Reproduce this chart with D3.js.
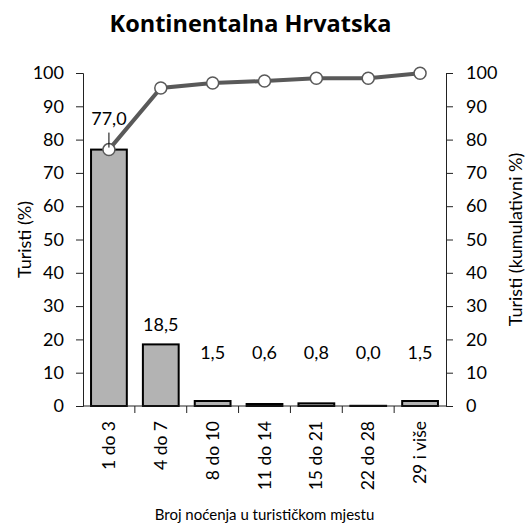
<!DOCTYPE html>
<html>
<head>
<meta charset="utf-8">
<script src="https://cdn.jsdelivr.net/npm/d3@7"></script>
<style>
  body { margin: 0; background: #fff; }
  text { font-family: Lato, "Noto Sans", sans-serif; fill: #000; }
</style>
</head>
<body>
<div id="chart"></div>
<script>
const categories = ["1 do 3", "4 do 7", "8 do 10", "11 do 14", "15 do 21", "22 do 28", "29 i više"];
const shares = [77.0, 18.5, 1.5, 0.6, 0.8, 0.0, 1.5];
const cumulative = [77.0, 95.5, 97.0, 97.6, 98.4, 98.4, 99.9];
const yTicks = [0, 10, 20, 30, 40, 50, 60, 70, 80, 90, 100];

const W = 531, H = 525;
const margin = { top: 73, right: 85, bottom: 119, left: 83 },
      width = W - margin.left - margin.right,
      height = H - margin.top - margin.bottom;

const root = d3.select("#chart").append("svg")
  .attr("width", W)
  .attr("height", H);

const svg = root.append("g")
  .attr("transform", `translate(${margin.left},${margin.top})`);

const x = d3.scaleBand()
  .domain(categories)
  .range([0, width])
  .paddingInner(0.31)
  .paddingOuter(0.155);

const xb = d3.scaleBand()
  .domain(categories)
  .range([0, width]);

const y = d3.scaleLinear().domain([0, 100]).range([height, 0]);

const fmt = v => v.toFixed(1).replace(".", ",");

// bars (keep a hairline height so zero bars still show their outline)
svg.selectAll("rect.bar")
  .data(shares)
  .join("rect")
  .attr("class", "bar")
  .attr("x", (d, i) => x(categories[i]))
  .attr("y", d => Math.min(y(d), height - 0.2))
  .attr("width", x.bandwidth())
  .attr("height", d => Math.max(height - y(d), 0.2))
  .attr("fill", "#b3b3b3")
  .attr("stroke", "#000")
  .attr("stroke-width", 2);

// axes
const leftAxis = svg.append("g")
  .call(d3.axisLeft(y).tickValues(yTicks).tickSize(7).tickPadding(12));
const rightAxis = svg.append("g")
  .attr("transform", `translate(${width},0)`)
  .call(d3.axisRight(y).tickValues(yTicks).tickSize(7).tickPadding(13));
[leftAxis, rightAxis].forEach(g => {
  g.select(".domain").attr("stroke", "#222");
  g.selectAll(".tick line").attr("stroke", "#222");
  g.selectAll("text").style("font-size", "18px").attr("font-family", null);
});

const xAxis = svg.append("g")
  .attr("transform", `translate(0,${height})`);
xAxis.append("line")
  .attr("x1", 0).attr("x2", width)
  .attr("stroke", "#222");
xAxis.selectAll("line.tk")
  .data(categories.slice(1))
  .join("line")
  .attr("class", "tk")
  .attr("x1", d => xb(d)).attr("x2", d => xb(d))
  .attr("y1", 0).attr("y2", 7)
  .attr("stroke", "#222");
xAxis.selectAll("text")
  .data(categories)
  .join("text")
  .attr("transform", d => `translate(${xb(d) + xb.bandwidth() / 2},15) rotate(-90)`)
  .attr("text-anchor", "end")
  .attr("dy", "0.35em")
  .style("font-size", "17.5px")
  .text(d => d);

// cumulative line
const cx = (d, i) => xb(categories[i]) + xb.bandwidth() / 2;
svg.append("path")
  .datum(cumulative)
  .attr("fill", "none")
  .attr("stroke", "#595959")
  .attr("stroke-width", 4)
  .attr("d", d3.line().x(cx).y(d => y(d)));

svg.selectAll("circle.pt")
  .data(cumulative)
  .join("circle")
  .attr("class", "pt")
  .attr("cx", cx)
  .attr("cy", d => y(d))
  .attr("r", 6)
  .attr("fill", "#fff")
  .attr("stroke", "#595959")
  .attr("stroke-width", 1.5);

// value labels
svg.selectAll("text.val")
  .data(shares)
  .join("text")
  .attr("class", "val")
  .attr("x", cx)
  .attr("y", (d, i) => i === 0 ? y(d) - 31 : y(Math.max(d, 10)) - 20)
  .attr("text-anchor", "middle")
  .attr("dy", "0.35em")
  .style("font-size", "18px")
  .text(d => fmt(d));

// leader line for first label
svg.append("line")
  .attr("x1", cx(shares[0], 0)).attr("x2", cx(shares[0], 0))
  .attr("y1", y(shares[0]) - 17).attr("y2", y(shares[0]) - 2)
  .attr("stroke", "#000");

// titles
root.append("text")
  .attr("x", margin.left + width / 2 - 14)
  .attr("y", 32)
  .attr("text-anchor", "middle")
  .style("font-family", "'Open Sans', sans-serif")
  .style("font-size", "23.5px")
  .style("font-weight", "700")
  .text("Kontinentalna Hrvatska");

root.append("text")
  .attr("x", margin.left + width / 2)
  .attr("y", 520)
  .attr("text-anchor", "middle")
  .style("font-size", "15px")
  .text("Broj noćenja u turističkom mjestu");

root.append("text")
  .attr("transform", `translate(31,${margin.top + height / 2}) rotate(-90)`)
  .attr("text-anchor", "middle")
  .style("font-size", "18px")
  .text("Turisti (%)");

root.append("text")
  .attr("transform", `translate(522,${margin.top + height / 2}) rotate(-90)`)
  .attr("text-anchor", "middle")
  .style("font-size", "18px")
  .text("Turisti (kumulativni %)");
</script>
</body>
</html>
